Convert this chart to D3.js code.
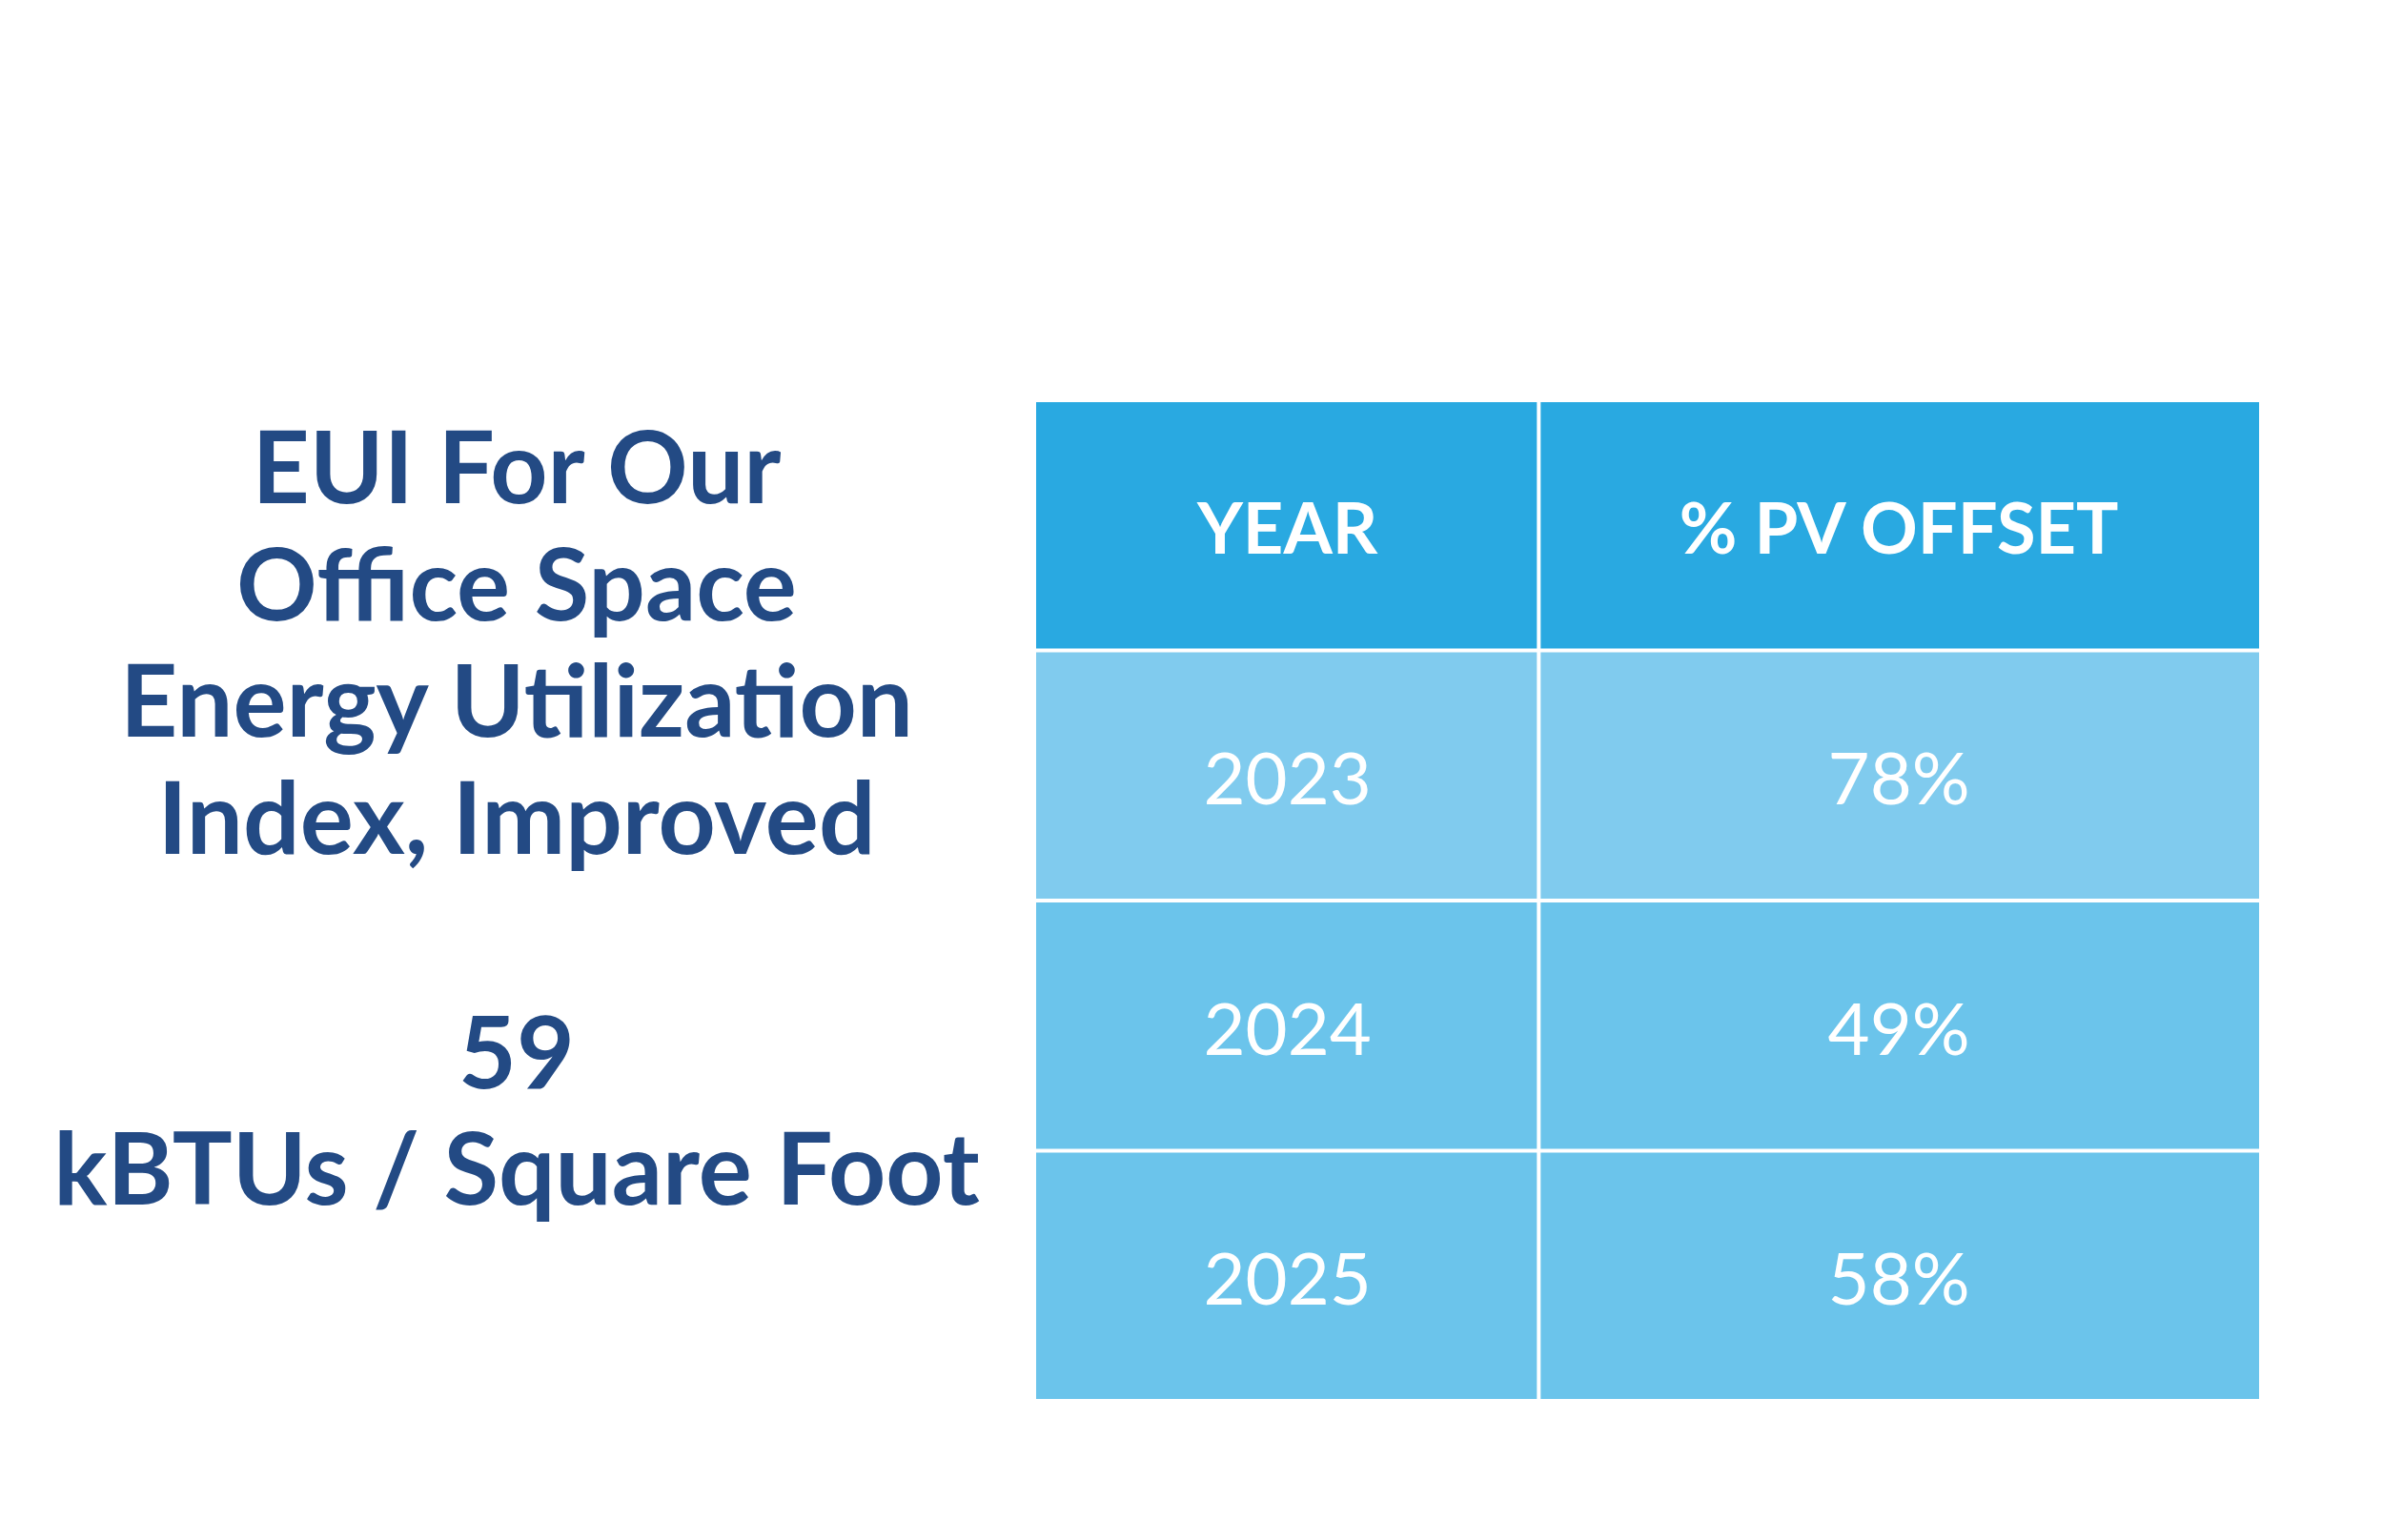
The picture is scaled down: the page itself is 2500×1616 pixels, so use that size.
<!DOCTYPE html>
<html>
<head>
<meta charset="utf-8">
<script src="https://cdn.jsdelivr.net/npm/d3@7"></script>
<style>
  html, body { margin: 0; padding: 0; background: #fff; }
  svg { display: block; }
</style>
</head>
<body>
<div id="chart"></div>
<script>
const width = 2500;
const height = 1616;

// data
const headers = ['YEAR', '% PV OFFSET'];
const years = ['2023', '2024', '2025'];
const offsets = ['78%', '49%', '58%'];
const titleLines = ['EUI For Our', 'Office Space', 'Energy Utilization', 'Index, Improved', '', '59', 'kBTUs / Square Foot'];

const table = { left: 1087, right: 2370, top: 422, bottom: 1468, split: 0.411 };
const gap = 4;
const rowFill = ['#29a9e1', '#80cbee', '#6bc4eb', '#6bc4eb'];

const svg = d3.select('#chart')
  .append('svg')
  .attr('width', width)
  .attr('height', height);

const rows = ['header'].concat(years);
const yScale = d3.scaleBand()
  .domain(d3.range(rows.length))
  .range([table.top, table.bottom + gap])
  .paddingInner(0);

const xScale = d3.scaleLinear().domain([0, 1]).range([table.left, table.right]);
const colEdges = [0, table.split, 1];

const cells = [];
rows.forEach(function(r, i) {
  const texts = i === 0 ? headers : [years[i - 1], offsets[i - 1]];
  texts.forEach(function(t, j) {
    cells.push({ row: i, col: j, text: t, header: i === 0 });
  });
});

const g = svg.append('g');
g.selectAll('rect.cell')
  .data(cells)
  .join('rect')
  .attr('class', 'cell')
  .attr('x', d => xScale(colEdges[d.col]) + (d.col > 0 ? gap / 2 : 0))
  .attr('y', d => yScale(d.row))
  .attr('width', d => xScale(colEdges[d.col + 1]) - xScale(colEdges[d.col]) - gap / 2)
  .attr('height', yScale.bandwidth() - gap)
  .attr('fill', d => rowFill[d.row]);

g.selectAll('text.cell')
  .data(cells)
  .join('text')
  .attr('class', 'cell')
  .attr('x', d => (xScale(colEdges[d.col]) + xScale(colEdges[d.col + 1])) / 2)
  .attr('y', d => yScale(d.row) + (yScale.bandwidth() - gap) / 2)
  .attr('dy', '0.4em')
  .attr('text-anchor', 'middle')
  .attr('fill', '#fff')
  .style('font-family', 'Lato, "Noto Sans", sans-serif')
  .style('font-size', d => d.header ? '74px' : '76px')
  .style('font-weight', d => d.header ? 700 : 400)
  .text(d => d.text);

// title block on the left
const title = svg.append('g')
  .attr('transform', 'translate(542,528)');
title.selectAll('text')
  .data(titleLines)
  .join('text')
  .attr('x', 0)
  .attr('y', (d, i) => i * 122.7)
  .attr('text-anchor', 'middle')
  .attr('fill', '#234a84')
  .style('font-family', 'Lato, "Noto Sans", sans-serif')
  .style('font-size', '105px')
  .style('font-weight', 700)
  .text(d => d);
</script>
</body>
</html>
